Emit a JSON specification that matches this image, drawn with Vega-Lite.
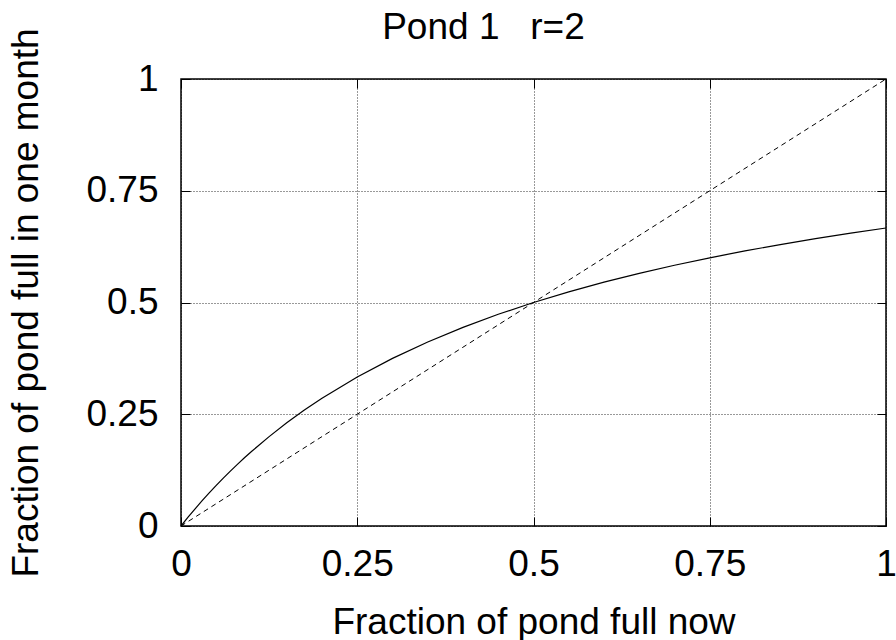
{
  "$schema": "https://vega.github.io/schema/vega-lite/v6.json",
  "width": 705,
  "height": 447,
  "autosize": {"type": "none"},
  "padding": {"left": 181, "top": 79, "right": 10, "bottom": 114},
  "background": "white",
  "config": {
    "font": "Liberation Sans",
    "view": {"stroke": "black", "strokeWidth": 1.5},
    "axis": {"labelFont": "Liberation Sans", "titleFont": "Liberation Sans", "labelFontSize": 37, "titleFontSize": 37, "titleFontWeight": "normal", "labelColor": "black", "titleColor": "black", "domain": false, "tickColor": "black", "tickSize": -9, "tickWidth": 1, "gridColor": "black", "gridDash": [1, 2], "gridWidth": 1, "gridOpacity": 0.8}
  },
  "title": {"text": "Pond 1\u00a0\u00a0\u00a0r=2", "fontSize": 37, "fontWeight": "normal", "font": "Liberation Sans", "color": "black", "anchor": "middle", "dx": -50, "offset": -19},
  "datasets": {
    "curve": [
      {"x": 0, "y": 0}, {"x": 0.01, "y": 0.01961}, {"x": 0.02, "y": 0.03846}, {"x": 0.03, "y": 0.0566}, {"x": 0.04, "y": 0.07407}, {"x": 0.05, "y": 0.09091}, {"x": 0.06, "y": 0.10714}, {"x": 0.07, "y": 0.12281}, {"x": 0.08, "y": 0.13793}, {"x": 0.09, "y": 0.15254}, {"x": 0.1, "y": 0.16667}, {"x": 0.125, "y": 0.2}, {"x": 0.15, "y": 0.23077}, {"x": 0.175, "y": 0.25926}, {"x": 0.2, "y": 0.28571}, {"x": 0.25, "y": 0.33333}, {"x": 0.3, "y": 0.375}, {"x": 0.35, "y": 0.41176}, {"x": 0.4, "y": 0.44444}, {"x": 0.45, "y": 0.47368}, {"x": 0.5, "y": 0.5}, {"x": 0.55, "y": 0.52381}, {"x": 0.6, "y": 0.54545}, {"x": 0.65, "y": 0.56522}, {"x": 0.7, "y": 0.58333}, {"x": 0.75, "y": 0.6}, {"x": 0.8, "y": 0.61538}, {"x": 0.85, "y": 0.62963}, {"x": 0.9, "y": 0.64286}, {"x": 0.95, "y": 0.65517}, {"x": 1, "y": 0.66667}
    ],
    "diag": [{"x": 0, "y": 0}, {"x": 1, "y": 1}]
  },
  "layer": [
    {
      "data": {"name": "curve"},
      "mark": {"type": "line", "color": "black", "strokeWidth": 1.2},
      "encoding": {
        "x": {"field": "x", "type": "quantitative", "scale": {"domain": [0, 1], "nice": false}, "axis": {"orient": "bottom", "values": [0, 0.25, 0.5, 0.75, 1], "title": "Fraction of pond full now", "labelPadding": 29, "titlePadding": 22, "labelFlush": false, "labelExpr": "format(datum.value, '')"}},
        "y": {"field": "y", "type": "quantitative", "scale": {"domain": [0, 1], "nice": false}, "axis": {"orient": "left", "values": [0, 0.25, 0.5, 0.75, 1], "title": "Fraction of pond full in one month", "labelPadding": 32, "titlePadding": 40, "labelFlush": false, "labelExpr": "format(datum.value, '')"}}
      }
    },
    {
      "data": {"name": "diag"},
      "mark": {"type": "line", "color": "black", "strokeWidth": 1, "strokeDash": [5, 4]},
      "encoding": {
        "x": {"field": "x", "type": "quantitative", "scale": {"domain": [0, 1], "nice": false}, "axis": {"orient": "top", "values": [0, 0.25, 0.5, 0.75, 1], "labels": false, "title": null, "grid": false}},
        "y": {"field": "y", "type": "quantitative", "scale": {"domain": [0, 1], "nice": false}, "axis": {"orient": "right", "values": [0, 0.25, 0.5, 0.75, 1], "labels": false, "title": null, "grid": false}}
      }
    }
  ],
  "resolve": {"axis": {"x": "independent", "y": "independent"}}
}
